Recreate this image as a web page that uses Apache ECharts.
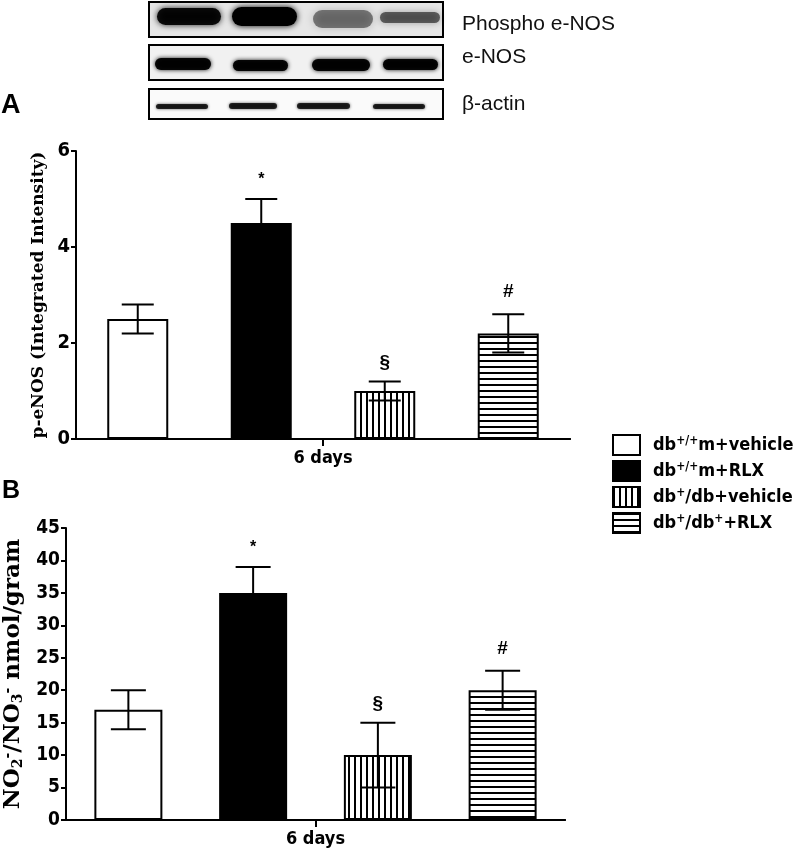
<!DOCTYPE html>
<html>
<head>
<meta charset="utf-8">
<script src="https://cdn.jsdelivr.net/npm/echarts@6/dist/echarts.min.js"></script>
<style>html,body{margin:0;padding:0;background:#fff;}#c{width:801px;height:853px;}</style>
</head>
<body>
<div id="c"></div>
<script>
// ---- data ----
const groups = ['db+/+m+vehicle', 'db+/+m+RLX', 'db+/db+vehicle', 'db+/db++RLX'];
const legendRich = ['db{sup|+/+}m+vehicle', 'db{sup|+/+}m+RLX', 'db{sup|+}/db+vehicle', 'db{sup|+}/db{sup|+}+RLX'];
const timeLabel = ['6 days'];
const peNOS = [2.5, 4.5, 1.0, 2.2];
const peNOSErr = [0.3, 0.5, 0.2, 0.4];
const nox = [17, 35, 10, 20];
const noxErr = [3, 4, 5, 3];
const marks = ['', '*', '§', '#'];
const blotLabels = ['Phospho e-NOS', 'e-NOS', 'β-actin'];

// ---- patterns ----
function stripes(vertical) {
  const c = document.createElement('canvas');
  c.width = 6; c.height = 6;
  const g = c.getContext('2d');
  g.fillStyle = '#fff'; g.fillRect(0, 0, 6, 6);
  g.fillStyle = '#000';
  if (vertical) g.fillRect(0, 0, 2, 6); else g.fillRect(0, 0, 6, 2);
  return { image: c, repeat: 'repeat' };
}
const fills = ['#ffffff', '#000000', stripes(true), stripes(false)];

const numFont = "'Liberation Sans Narrow','Arial Narrow','DejaVu Sans Condensed','Liberation Sans',Arial,sans-serif";
const serifFont = "'DejaVu Serif', serif";

function barSeries(gi, values, barW) {
  return groups.map((name, k) => ({
    name: name,
    type: 'bar',
    xAxisIndex: gi * 2,
    yAxisIndex: gi,
    stack: 'g' + gi,
    barWidth: barW,
    data: values.map((v, i) => i === k ? v : '-'),
    itemStyle: { color: fills[k], borderColor: '#000', borderWidth: 2 },
    emphasis: { disabled: true },
    z: 2
  }));
}

function errSeries(gi, values, errs, capW) {
  return {
    type: 'custom',
    xAxisIndex: gi * 2,
    yAxisIndex: gi,
    z: 5,
    data: values.map((v, i) => [i, v, errs[i]]),
    renderItem: function (params, api) {
      const x = api.value(0), y = api.value(1), e = api.value(2);
      const top = api.coord([x, y + e]);
      const bot = api.coord([x, y - e]);
      const h = capW / 2;
      const st = { stroke: '#000', lineWidth: 2 };
      const mark = marks[params.dataIndex];
      const ch = [
        { type: 'line', shape: { x1: top[0], y1: top[1], x2: bot[0], y2: bot[1] }, style: st },
        { type: 'line', shape: { x1: top[0] - h, y1: top[1], x2: top[0] + h, y2: top[1] }, style: st },
        { type: 'line', shape: { x1: bot[0] - h, y1: bot[1], x2: bot[0] + h, y2: bot[1] }, style: st }
      ];
      if (mark) {
        ch.push({ type: 'text', x: top[0], y: top[1] - (mark === '#' ? 22 : 19),
          style: { text: mark, fill: '#000', font: 'bold ' + (mark === '*' ? 16 : 19) + 'px Arial, sans-serif', align: 'center', verticalAlign: 'middle' } });
      }
      return { type: 'group', children: ch };
    }
  };
}

const axisLineStyle = { show: true, lineStyle: { color: '#000', width: 2 } };

function xAxes(gi) {
  return [
    { type: 'category', gridIndex: gi, data: groups, axisLine: axisLineStyle, axisTick: { show: false }, axisLabel: { show: false } },
    { type: 'category', gridIndex: gi, data: timeLabel, position: 'bottom', axisLine: axisLineStyle,
      axisTick: { show: true, alignWithLabel: true, length: 7, lineStyle: { color: '#000', width: 2 } },
      axisLabel: { color: '#000', fontWeight: 'bold', fontSize: 18, fontFamily: numFont, margin: 10 } }
  ];
}

// ---- western blot graphics ----
const blot = [];
const boxes = [ { y: 2, h: 35, fill: '#e6e6e6', ty: 24 }, { y: 45, h: 35, fill: '#f1f1f1', ty: 57 }, { y: 89, h: 30, fill: '#fafafa', ty: 104 } ];
boxes.forEach((b, i) => {
  blot.push({ type: 'rect', shape: { x: 149, y: b.y, width: 294, height: b.h }, style: { fill: b.fill, stroke: '#000', lineWidth: 2 }, z: 1 });
  blot.push({ type: 'text', x: 462, y: b.ty, style: { text: blotLabels[i], fill: '#111', font: '21px Arial, "Liberation Sans", sans-serif', verticalAlign: 'middle' }, z: 2 });
});
const bands = [
  // box1
  { x: 157, y: 8, w: 64, h: 17, a: 0.92, b: 6 }, { x: 232, y: 7, w: 65, h: 19, a: 1, b: 6 }, { x: 313, y: 10, w: 60, h: 18, a: 0.45, b: 9 }, { x: 380, y: 12, w: 60, h: 11, a: 0.55, b: 7 },
  // box2
  { x: 155, y: 58, w: 56, h: 12, a: 0.95, b: 4 }, { x: 233, y: 60, w: 55, h: 11, a: 0.95, b: 4 }, { x: 312, y: 59, w: 58, h: 12, a: 0.95, b: 4 }, { x: 383, y: 59, w: 55, h: 11, a: 0.95, b: 4 },
  // box3
  { x: 156, y: 104, w: 52, h: 5, a: 0.8, b: 3 }, { x: 229, y: 103, w: 48, h: 6, a: 0.8, b: 3 }, { x: 297, y: 103, w: 53, h: 6, a: 0.8, b: 3 }, { x: 373, y: 104, w: 52, h: 5, a: 0.8, b: 3 }
];
bands.forEach(b => {
  blot.push({ type: 'rect', shape: { x: b.x, y: b.y, width: b.w, height: b.h, r: b.h / 2 },
    style: { fill: 'rgba(0,0,0,' + b.a + ')', shadowBlur: b.b, shadowColor: 'rgba(0,0,0,' + b.a + ')' }, z: 3 });
});
blot.push({ type: 'text', left: 1, top: 92, style: { text: 'A', fill: '#000', font: 'bold 27px Arial, sans-serif' } });
blot.push({ type: 'text', left: 2, top: 479, style: { text: 'B', fill: '#000', font: 'bold 25px Arial, sans-serif' } });

const chart = echarts.init(document.getElementById('c'), null, { renderer: 'canvas' });
chart.setOption({
  animation: false,
  backgroundColor: '#fff',
  graphic: blot,
  legend: {
    data: groups,
    orient: 'vertical',
    left: 607,
    top: 429,
    itemWidth: 27,
    itemHeight: 20,
    itemGap: 4,
    icon: 'rect',
    selectedMode: false,
    formatter: function (name) { return legendRich[groups.indexOf(name)]; },
    textStyle: { color: '#000', fontWeight: 'bold', fontSize: 18, fontFamily: numFont, padding: [0, 0, 0, 8],
      rich: { sup: { fontSize: 12, fontWeight: 'bold', fontFamily: numFont, verticalAlign: 'bottom', padding: [0, 0, 9, 0] } } }
  },
  grid: [
    { left: 76, top: 151, width: 494, height: 288, containLabel: false, outerBoundsMode: 'none' },
    { left: 66, top: 528, width: 499, height: 292, containLabel: false, outerBoundsMode: 'none' }
  ],
  xAxis: xAxes(0).concat(xAxes(1)),
  yAxis: [
    { type: 'value', gridIndex: 0, min: 0, max: 6, interval: 2, splitLine: { show: false },
      axisLine: axisLineStyle, axisTick: { show: true, length: 5, lineStyle: { color: '#000', width: 2 } },
      axisLabel: { color: '#000', fontWeight: 'bold', fontSize: 20, fontFamily: numFont, margin: 6 },
      name: 'p-eNOS (Integrated Intensity)', nameLocation: 'middle', nameGap: 28,
      nameTextStyle: { color: '#000', fontWeight: 'bold', fontSize: 17, fontFamily: serifFont } },
    { type: 'value', gridIndex: 1, min: 0, max: 45, interval: 5, splitLine: { show: false },
      axisLine: axisLineStyle, axisTick: { show: true, length: 5, lineStyle: { color: '#000', width: 2 } },
      axisLabel: { color: '#000', fontWeight: 'bold', fontSize: 19, fontFamily: numFont, margin: 6 },
      name: '{n|NO}{sub|2}{sup|-}{n|/NO}{sub|3}{sup|-}{n| nmol/gram}', nameLocation: 'middle', nameGap: 41,
      nameTextStyle: { color: '#000', rich: {
        n: { fontWeight: 'bold', fontSize: 23, fontFamily: serifFont, color: '#000' },
        sub: { fontWeight: 'bold', fontSize: 14, fontFamily: serifFont, color: '#000', verticalAlign: 'bottom', padding: [9, 0, 0, 0] },
        sup: { fontWeight: 'bold', fontSize: 14, fontFamily: serifFont, color: '#000', verticalAlign: 'bottom', padding: [0, 0, 10, 0] }
      } } }
  ],
  series: barSeries(0, peNOS, 61)
    .concat([errSeries(0, peNOS, peNOSErr, 32)])
    .concat(barSeries(1, nox, 68))
    .concat([errSeries(1, nox, noxErr, 35)])
});
</script>
</body>
</html>
